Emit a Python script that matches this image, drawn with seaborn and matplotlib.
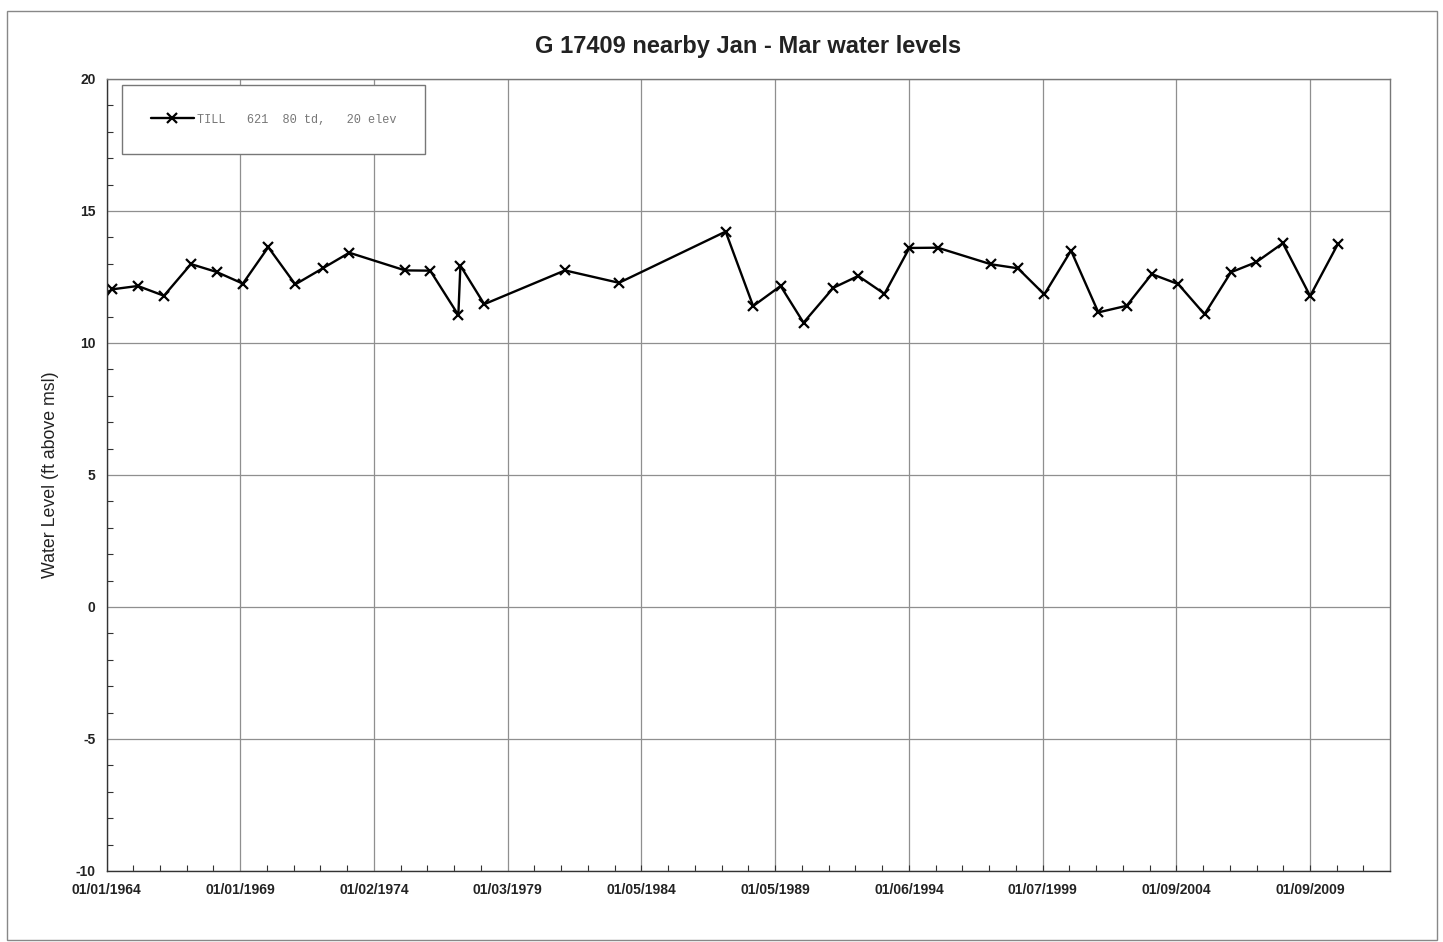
import matplotlib
matplotlib.use("Agg")
import matplotlib.pyplot as plt
from matplotlib.ticker import AutoMinorLocator, MultipleLocator
from matplotlib.patches import Rectangle
import seaborn as sns
import pandas as pd

# ---- data ----
dates = ["1963-03-10", "1964-03-10", "1965-03-04", "1966-02-24", "1967-02-28", "1968-02-14",
         "1969-02-06", "1970-01-19", "1971-01-23", "1972-02-03", "1973-01-30", "1975-03-04",
         "1976-02-10", "1977-02-28", "1977-03-28", "1978-02-17", "1981-02-24", "1983-03-04",
         "1987-02-28", "1988-03-10", "1989-03-20", "1990-01-27", "1991-03-10", "1992-02-14",
         "1993-02-06", "1994-01-12", "1995-02-03", "1997-02-03", "1998-02-03", "1999-01-30",
         "2000-01-30", "2001-02-06", "2002-02-28", "2003-02-06", "2004-02-03", "2005-01-27",
         "2006-01-23", "2007-01-02", "2008-01-02", "2009-01-09", "2010-01-23"]
levels = [10.72, 12.03, 12.16, 11.79, 12.99, 12.69,
          12.25, 13.63, 12.22, 12.83, 13.42, 12.75,
          12.74, 11.06, 12.93, 11.47, 12.75, 12.28,
          14.22, 11.40, 12.16, 10.77, 12.09, 12.54,
          11.86, 13.60, 13.61, 12.98, 12.83, 11.84,
          13.50, 11.16, 11.41, 12.61, 12.23, 11.09,
          12.68, 13.06, 13.78, 11.78, 13.75]
series_label = "TILL   621  80 td,   20 elev"
tick_labels = ["01/01/1964", "01/01/1969", "01/02/1974", "01/03/1979", "01/05/1984",
               "01/05/1989", "01/06/1994", "01/07/1999", "01/09/2004", "01/09/2009"]
y_ticks = [-10, -5, 0, 5, 10, 15, 20]
title = "G 17409 nearby Jan - Mar water levels"
ylabel = "Water Level (ft above msl)"

df = pd.DataFrame({"date": pd.to_datetime(dates), "level": levels})
tick_dates = pd.to_datetime(tick_labels, format="%m/%d/%Y")

sns.set_style("white")
plt.rcParams["font.family"] = ["Liberation Sans", "DejaVu Sans"]
plt.rcParams["axes.unicode_minus"] = False

W, H = 1443, 942
fig = plt.figure(figsize=(W / 100, H / 100), dpi=100)
ax = fig.add_axes([106.5 / W, 1 - 871 / H, (1390 - 106.5) / W, (871 - 79) / H])

sns.lineplot(data=df, x="date", y="level", ax=ax, color="black", linewidth=1.7,
             marker="x", markersize=6.5, markeredgewidth=1.6, markeredgecolor="black",
             estimator=None, sort=False, label=series_label)

ax.set_xlim(pd.Timestamp("1964-01-01"), pd.Timestamp("2012-01-05"))
ax.set_ylim(-10, 20)
ax.set_xticks(tick_dates)
ax.set_xticklabels(tick_labels)
ax.xaxis.set_minor_locator(AutoMinorLocator(5))
ax.set_yticks(y_ticks)
ax.yaxis.set_minor_locator(MultipleLocator(1))

ax.grid(True, which="major", color="#8f8f8f", linewidth=0.9)
ax.tick_params(axis="both", which="both", direction="in", colors="#333333",
               bottom=True, left=True, top=False, right=False)
ax.tick_params(axis="x", which="major", length=0, pad=8.5, labelsize=10, labelcolor="#222222")
ax.tick_params(axis="y", which="major", length=0, pad=8, labelsize=10, labelcolor="#222222")
ax.tick_params(axis="both", which="minor", length=4.5, width=0.8)
for lab in ax.get_xticklabels() + ax.get_yticklabels():
    lab.set_fontweight("bold")

for side, sp in ax.spines.items():
    sp.set_visible(True)
    sp.set_linewidth(1.0)
    sp.set_color("#333333" if side in ("left", "bottom") else "#777777")

ax.set_xlabel("")
ax.set_ylabel(ylabel, fontsize=12.8, color="#222222", labelpad=11.5)
ax.set_title(title, fontsize=17, fontweight="bold", color="#222222", pad=19)

leg = ax.legend(loc="upper left", bbox_to_anchor=((122 - 106.5) / (1390 - 106.5), 1 - (85 - 79) / (871 - 79)),
                borderaxespad=0, borderpad=2.4, handlelength=3.6, handletextpad=0.3,
                frameon=True, fancybox=False, framealpha=1, edgecolor="#777777",
                prop={"family": "Liberation Mono", "size": 8.6}, labelcolor="#777777")
leg.get_frame().set_linewidth(1.0)

# outer chart border
fig.patches.append(Rectangle((7 / W, 1 - 940 / H), (1437 - 7) / W, (940 - 11) / H,
                             transform=fig.transFigure, fill=False, edgecolor="#888888",
                             linewidth=1.0))

fig.savefig("out.png", dpi=100, facecolor="white")
